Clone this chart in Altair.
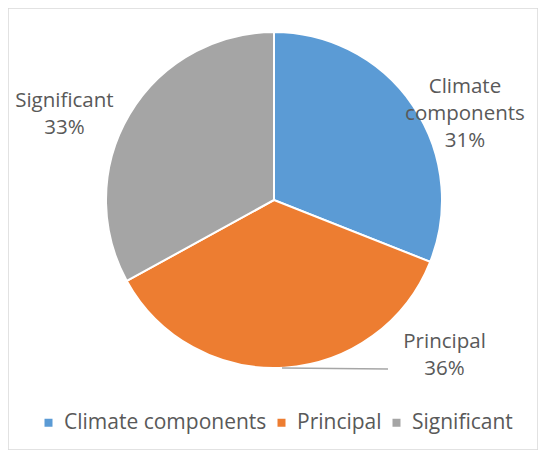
import altair as alt
import pandas as pd

categories = ["Climate components", "Principal", "Significant"]
shares = [31, 36, 33]
label_lines = [["Climate", "components"], ["Principal"], ["Significant"]]
colors = ["#5B9BD5", "#ED7D31", "#A5A5A5"]

df = pd.DataFrame({
    "category": categories,
    "share": shares,
    "rank": list(range(len(categories))),
    "label": ["\n".join(l + [f"{v}%"]) for l, v in zip(label_lines, shares)],
})

CX, CY, R = 266, 192, 168
FONT = "Open Sans"
TXT = "#595959"

base = alt.Chart(df).encode(
    theta=alt.Theta("share:Q", stack=True),
    order=alt.Order("rank:Q"),
)

pie = base.mark_arc(outerRadius=R, stroke="white", strokeWidth=2).encode(
    x=alt.value(CX),
    y=alt.value(CY),
    color=alt.Color(
        "category:N",
        sort=categories,
        scale=alt.Scale(domain=categories, range=colors),
        legend=alt.Legend(
            orient="none", legendX=30, legendY=404, direction="horizontal",
            title=None, symbolType="square", symbolSize=64, symbolStrokeWidth=0,
            symbolOpacity=1, labelFont=FONT, labelFontSize=21, labelColor=TXT,
            labelOffset=5, columnPadding=4, labelLimit=400,
        ),
    ),
)

offsets = {"Climate components": (52, -19), "Principal": (160, -26), "Significant": (-65, -13)}
labels = []
for c in categories:
    dx, dy = offsets[c]
    labels.append(
        base.mark_text(
            radius=R, dx=dx, dy=dy, lineBreak="\n", lineHeight=27,
            font=FONT, fontSize=20.5, color=TXT, align="center", baseline="middle",
        ).encode(
            x=alt.value(CX), y=alt.value(CY),
            text=alt.condition(alt.datum.category == c, "label:N", alt.value("")),
        )
    )

leader = alt.Chart(pd.DataFrame({"k": [0]})).mark_rule(
    color="#A6A6A6", strokeWidth=1.5
).encode(x=alt.value(274), x2=alt.value(380), y=alt.value(360), y2=alt.value(361))

chart = alt.layer(pie, leader, *labels).properties(
    width=530, height=442, autosize="none", padding=0
).configure_view(stroke="#D9D9D9", strokeWidth=1.5)

chart.save("out.html", embed_options={"renderer": "svg", "actions": False})
